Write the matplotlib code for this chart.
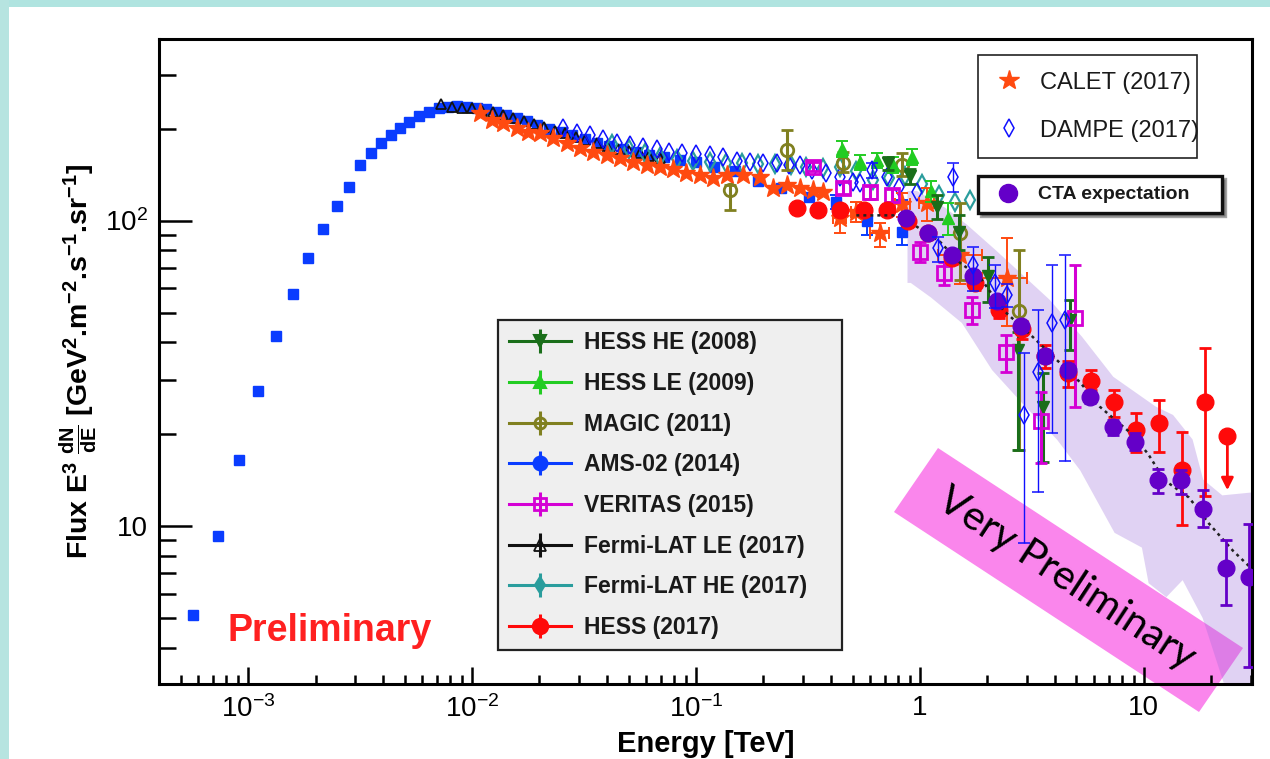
import matplotlib
matplotlib.use("Agg")
import matplotlib.pyplot as plt
from matplotlib.lines import Line2D
from matplotlib.patches import Rectangle, Polygon
import matplotlib.ticker as mticker

plt.rcParams['font.family'] = ['Liberation Sans', 'DejaVu Sans']
plt.rcParams['mathtext.fontset'] = 'custom'
plt.rcParams['mathtext.rm'] = 'Liberation Sans'
plt.rcParams['mathtext.it'] = 'Liberation Sans:italic'
plt.rcParams['mathtext.bf'] = 'Liberation Sans:bold'
plt.rcParams['mathtext.default'] = 'regular'

# ---------------- data: energy [TeV], E^3 dN/dE [GeV^2 m^-2 s^-1 sr^-1] ----------------
ams_E = [5.7e-4, 7.3e-4, 9.1e-4, 1.11e-3, 1.33e-3, 1.58e-3, 1.86e-3, 2.15e-3, 2.49e-3, 2.83e-3,
         3.16e-3, 3.53e-3, 3.92e-3, 4.33e-3, 4.77e-3, 5.25e-3, 5.82e-3, 6.44e-3, 7.10e-3,
         7.8e-3, 8.6e-3, 9.5e-3, 0.0105, 0.0116, 0.0128, 0.0142, 0.0158, 0.0176, 0.0196,
         0.022, 0.025, 0.028, 0.032, 0.036, 0.041, 0.047, 0.054, 0.062, 0.072, 0.085,
         0.10, 0.12, 0.15, 0.19, 0.24, 0.32]
ams_F = [5.1, 9.3, 16.4, 27.6, 41.9, 57.7, 75.3, 94, 112, 129,
         152, 166, 179, 190, 201, 211, 220, 227, 233,
         236, 237, 236, 234, 231, 227, 222, 217, 212, 206,
         200, 195, 190, 185, 180, 176, 172, 168, 164, 161, 158,
         155, 150, 145, 135, 128, 119]
ams_he_E = [0.42, 0.58, 0.83]
ams_he_F = [115, 100, 92]
ams_he_lo = [6, 10, 9]
ams_he_hi = [6, 10, 25]

fermi_le_E = [0.0073, 0.0081, 0.009, 0.010, 0.0111, 0.0124, 0.0138, 0.0153, 0.017, 0.019, 0.021,
              0.0235, 0.026, 0.029, 0.032, 0.036, 0.040, 0.045, 0.050, 0.056, 0.062, 0.069]
fermi_le_F = [240, 236, 234, 233, 229, 226, 222, 217, 212, 207, 202,
              197, 193, 188, 184, 180, 176, 172, 169, 166, 163, 160]

fermi_he_E = [0.042, 0.05, 0.059, 0.069, 0.082, 0.097, 0.115, 0.136, 0.16, 0.19, 0.225, 0.265,
              0.31, 0.37, 0.44, 0.52, 0.62, 0.73, 0.86, 1.02, 1.22, 1.44, 1.68, 1.95]
fermi_he_F = [178, 172, 167, 162, 159, 157, 156, 154, 154, 153, 153, 152,
              150, 149, 150, 145, 136, 138, 140, 132, 121, 115, 117, 115]

dampe_E = [0.0255, 0.0294, 0.0336, 0.0385, 0.0443, 0.0509, 0.058, 0.067, 0.076, 0.087, 0.10,
           0.115, 0.132, 0.152, 0.175, 0.20, 0.23, 0.26, 0.29, 0.33, 0.38, 0.44, 0.50, 0.54,
           0.71, 0.81, 0.97]
dampe_F = [201, 193, 190, 185, 180, 177, 174, 172, 168, 166, 165,
           164, 162, 157, 155, 154, 154, 152, 152, 146, 143, 139, 134, 133,
           139, 129, 124]
dampe_he_E = [0.61, 1.21, 1.40, 1.73, 2.16, 2.46, 2.93, 3.36, 3.87, 4.44]
dampe_he_F = [146, 81.2, 139, 71.6, 62.4, 57.1, 23.1, 32.0, 46.1, 47.3]
dampe_he_lo = [8, 8, 15, 12.6, 10.6, 5, 14.3, 19.1, 25.9, 31]
dampe_he_hi = [8, 7, 15, 10.4, 9.2, 5, 13.8, 19, 25.5, 29.9]

calet_E = [0.0109, 0.0123, 0.0138, 0.0159, 0.0178, 0.0202, 0.023, 0.0265, 0.0303, 0.0346,
           0.040, 0.0456, 0.0524, 0.0603, 0.069, 0.079, 0.0907, 0.104, 0.119, 0.137,
           0.162, 0.193, 0.22, 0.254, 0.29, 0.333, 0.37]
calet_F = [225, 213, 209, 201, 195, 193, 186, 180, 173, 168,
           164, 160, 156, 152, 150, 147, 143, 141, 138, 141,
           141, 139, 128, 131, 128, 126, 124]
calet_he_E = [0.44, 0.52, 0.66, 0.83, 1.07, 1.51, 2.44]
calet_he_F = [102, 107, 91, 113, 114, 77, 65]
calet_he_lo = [11, 8, 9, 10, 14, 15, 20]
calet_he_hi = [6, 8, 7, 10, 14, 18, 23]
calet_he_xlo = [0.03, 0.03, 0.06, 0.06, 0.08, 0.31, 0.54]
calet_he_xhi = [0.03, 0.03, 0.07, 0.07, 0.08, 0.39, 0.56]

magic_E = [0.142, 0.254, 0.455, 0.83, 1.51, 2.78]
magic_F = [126, 170, 154, 152, 91, 50.4]
magic_lo = [18, 24, 10, 12, 27, 32.7]
magic_hi = [5, 28, 14, 14, 23, 29.8]

hess_le_E = [0.45, 0.54, 0.64, 0.76, 0.92, 1.12, 1.34]
hess_le_F = [172, 155, 158, 152, 162, 125, 102]
hess_le_err = [10, 9, 9, 9, 10, 10, 12]

hess_he_E = [0.72, 0.9, 1.19, 1.5, 2.01, 2.73, 3.54, 4.67]
hess_he_F = [154, 140, 111, 92, 66, 37.7, 24.6, 47.3]
hess_he_lo = [8, 8, 10, 12, 12, 20, 8.4, 9.6]
hess_he_hi = [8, 8, 10, 12, 10, 5.4, 7.1, 7.7]

veritas_E = [0.334, 0.455, 0.60, 0.75, 1.0, 1.28, 1.71, 2.42, 3.46, 4.94]
veritas_F = [150, 128, 124, 121, 79, 67.3, 51, 37.2, 22, 47.9]
veritas_lo = [5, 6, 6, 6, 6, 6, 5, 5.2, 5.9, 23.3]
veritas_hi = [5, 6, 6, 6, 6, 6, 5, 5, 5.5, 23.7]

hess17_E = [0.282, 0.352, 0.44, 0.56, 0.71, 0.887, 1.09, 1.39, 1.76, 2.25, 2.85, 3.6,
            4.6, 5.81, 7.36, 9.23, 11.7, 14.8, 18.7]
hess17_F = [110, 108, 108, 108, 108, 99.3, 91, 75.3, 62.4, 51, 44, 36,
            31.6, 29.9, 25.5, 20.6, 21.8, 15.3, 25.4]
hess17_lo = [3, 3, 3, 3, 3, 3, 3, 3, 3, 3, 3, 3, 3, 2, 2.7, 3.1, 4.3, 5.2, 12.9]
hess17_hi = [3, 3, 3, 3, 3, 3, 3, 3, 3, 3, 3, 3, 3, 2.5, 2.4, 2.8, 4.1, 5.0, 12.8]
hess17_ul_E = [23.6]
hess17_ul_F = [19.7]
hess17_ul_end = [13.1]

cta_E = [0.87, 1.09, 1.39, 1.73, 2.20, 2.82, 3.63, 4.57, 5.73, 7.29, 9.17, 11.6, 14.6, 18.3, 23.2, 29.6]
cta_F = [102, 91, 77.2, 65.6, 54.4, 45, 35.9, 32.4, 26.5, 21.1, 18.9, 14.1, 14.2, 11.4, 7.27, 6.82]
cta_lo = [2, 2, 2, 2, 2, 1.5, 1.5, 1.5, 1.2, 1.2, 1.2, 1.3, 1.5, 1.5, 1.77, 3.36]
cta_hi = [2, 2, 2, 2, 2, 1.5, 1.5, 1.5, 1.2, 1.2, 1.2, 1.3, 1.1, 1.7, 1.7, 3.3]

cta_model_E = [0.52, 0.81, 0.97, 1.23, 1.51, 1.85, 2.35, 3.19, 5.18, 6.35, 8.5, 10.4, 12.4,
               15.9, 19.5, 25.0, 30.6]
cta_model_F = [104, 104, 95.4, 85.2, 72.7, 65.4, 51.0, 41.6, 29.6, 24.6, 20.5, 17.3, 14.1,
               12.4, 10.2, 8.3, 7.2]

band_up_E = [0.88, 0.97, 1.3, 1.62, 2.18, 3.8, 5.3, 7.3, 11.3, 13.5, 16.5, 18.4, 22.4, 31]
band_up_F = [125, 125, 110, 97, 80, 55, 41.6, 30.8, 24.6, 23.1, 19.2, 14.2, 12.6, 12.9]
band_lo_E = [0.88, 0.91, 1.12, 1.54, 2.10, 2.97, 4.09, 5.2, 7.4, 9.8, 10.5, 12.6, 14.9, 18.3, 22.7, 31]
band_lo_F = [62.5, 62.5, 56, 46.2, 32.4, 24.5, 19.2, 15.2, 9.5, 8.5, 6.5, 5.85, 6.65, 5.0, 3.07, 3.0]

xtick_vals = [1e-3, 1e-2, 1e-1, 1, 10]
xtick_labels = [r'$10^{-3}$', r'$10^{-2}$', r'$10^{-1}$', '1', '10']
ytick_vals = [10, 100]
ytick_labels = ['10', r'$10^{2}$']

legend_main_labels = ['HESS HE (2008)', 'HESS LE (2009)', 'MAGIC (2011)', 'AMS-02 (2014)',
                      'VERITAS (2015)', 'Fermi-LAT LE (2017)', 'Fermi-LAT HE (2017)', 'HESS (2017)']

# ---------------- colours ----------------
C_AMS = '#0a3cff'
C_FLE = '#111111'
C_FHE = '#2a9d9d'
C_DAMPE = '#1010ff'
C_CALET = '#ff4a10'
C_MAGIC = '#808020'
C_HLE = '#22cc22'
C_HHE = '#1a6e1a'
C_VER = '#d400d4'
C_H17 = '#ff0a0a'
C_CTA = '#6400c8'

W_PX, H_PX = 1270, 759
fig = plt.figure(figsize=(W_PX / 100, H_PX / 100), dpi=100)

# slide-style teal edges
fig.patches.append(Rectangle((0, 1 - 7 / H_PX), 1, 7 / H_PX, transform=fig.transFigure,
                             facecolor='#b0e4e0', edgecolor='none', zorder=0))
fig.patches.append(Rectangle((0, 0), 9 / W_PX, 1, transform=fig.transFigure,
                             facecolor='#b6e4e0', edgecolor='none', zorder=0))

ax_l, ax_r, ax_t, ax_b = 159, 1252, 39, 684
ax = fig.add_axes([ax_l / W_PX, 1 - ax_b / H_PX, (ax_r - ax_l) / W_PX, (ax_b - ax_t) / H_PX])
ax.set_xscale('log')
ax.set_yscale('log')
ax.set_xlim(4.0e-4, 30.4)
ax.set_ylim(3.04, 393)

for sp in ax.spines.values():
    sp.set_linewidth(2.2)

# "Very Preliminary" banner (figure pixel geometry)
banner = [(938, 448), (1243, 648), (1199, 712), (894, 512)]
ax.add_patch(Polygon([(x / W_PX, 1 - y / H_PX) for x, y in banner], closed=True,
                     transform=fig.transFigure, facecolor='#fa86ec', edgecolor='none',
                     clip_on=False, zorder=1.1))

# CTA expectation band
band_x = band_up_E + band_lo_E[::-1]
band_y = band_up_F + band_lo_F[::-1]
ax.fill(band_x, band_y, facecolor='#9b6bd9', alpha=0.3, edgecolor='none', zorder=1.2)

eb = dict(ls='none', capsize=4, elinewidth=1.4, capthick=1.4)

# AMS-02
ax.plot(ams_E, ams_F, ls='none', marker='s', ms=7.2, color=C_AMS, zorder=3)
ax.errorbar(ams_he_E, ams_he_F, yerr=[ams_he_lo, ams_he_hi], marker='s', ms=7.2,
            color=C_AMS, zorder=3, **eb)
# Fermi-LAT LE / HE
ax.plot(fermi_le_E, fermi_le_F, ls='none', marker='^', ms=7, mfc='none', mec=C_FLE,
        mew=1.3, zorder=3.1)
ax.plot(fermi_he_E, fermi_he_F, ls='none', marker='d', ms=9, mfc='none', mec=C_FHE,
        mew=1.6, zorder=3.2)
# DAMPE
ax.plot(dampe_E, dampe_F, ls='none', marker='d', ms=9, mfc='none', mec=C_DAMPE,
        mew=1.1, zorder=3.3)
ax.errorbar(dampe_he_E, dampe_he_F, yerr=[dampe_he_lo, dampe_he_hi], marker='d', ms=9,
            mfc='none', mec=C_DAMPE, mew=1.1, color=C_DAMPE, ls='none', capsize=4,
            elinewidth=1.0, capthick=1.0, zorder=4.3)
# CALET
ax.plot(calet_E, calet_F, ls='none', marker='*', ms=14, color=C_CALET, mec=C_CALET, zorder=3.4)
ax.errorbar(calet_he_E, calet_he_F, yerr=[calet_he_lo, calet_he_hi],
            xerr=[calet_he_xlo, calet_he_xhi], marker='*', ms=14, color=C_CALET,
            zorder=3.4, **eb)
# MAGIC
ax.errorbar(magic_E, magic_F, yerr=[magic_lo, magic_hi], marker='o', ms=9, mfc='none',
            mec=C_MAGIC, mew=2, color=C_MAGIC, ls='none', capsize=4, elinewidth=2.2,
            capthick=2, zorder=3.5)
# HESS LE / HE
ax.errorbar(hess_le_E, hess_le_F, yerr=hess_le_err, marker='^', ms=9, color=C_HLE,
            zorder=3.6, **eb)
ax.errorbar(hess_he_E, hess_he_F, yerr=[hess_he_lo, hess_he_hi], marker='v', ms=9,
            color=C_HHE, ls='none', capsize=4, elinewidth=2.2, capthick=2, zorder=3.7)
# VERITAS
ax.errorbar(veritas_E, veritas_F, yerr=[veritas_lo, veritas_hi], marker='s', ms=9.5,
            mfc='none', mec=C_VER, mew=2, color=C_VER, ls='none', capsize=4,
            elinewidth=2.2, capthick=2, zorder=3.8)
# HESS 2017
ax.errorbar(hess17_E, hess17_F, yerr=[hess17_lo, hess17_hi], marker='o', ms=12,
            color=C_H17, zorder=3.9, ls='none', capsize=4, elinewidth=2, capthick=2)
ax.plot(hess17_ul_E, hess17_ul_F, ls='none', marker='o', ms=12, color=C_H17, zorder=3.9)
for e, f0, f1 in zip(hess17_ul_E, hess17_ul_F, hess17_ul_end):
    ax.annotate('', xy=(e, f1), xytext=(e, f0), zorder=3.9,
                arrowprops=dict(arrowstyle='-|>', color=C_H17, lw=2,
                                mutation_scale=18, shrinkA=0, shrinkB=0))
# CTA expectation
ax.plot(cta_model_E, cta_model_F, color='#222222', lw=1.8, ls=(0, (1.2, 1.6)), zorder=4.0)
ax.errorbar(cta_E, cta_F, yerr=[cta_lo, cta_hi], marker='o', ms=12, color=C_CTA,
            zorder=4.1, ls='none', capsize=4, elinewidth=2, capthick=2)

# ---------------- axes ----------------
ax.xaxis.set_minor_locator(mticker.LogLocator(base=10, subs=range(2, 10), numticks=30))
ax.yaxis.set_minor_locator(mticker.LogLocator(base=10, subs=range(2, 10), numticks=30))
ax.xaxis.set_minor_formatter(mticker.NullFormatter())
ax.yaxis.set_minor_formatter(mticker.NullFormatter())
ax.set_xticks(xtick_vals)
ax.set_xticklabels(xtick_labels)
ax.set_yticks(ytick_vals)
ax.set_yticklabels(ytick_labels)
ax.tick_params(axis='x', which='major', direction='in', length=12, width=1.8, top=False,
               labelsize=20, pad=8)
ax.tick_params(axis='x', which='minor', direction='in', length=6.5, width=1.8, top=False)
ax.tick_params(axis='y', which='major', direction='in', length=24, width=1.8, right=False,
               labelsize=20, pad=8)
ax.tick_params(axis='y', which='minor', direction='in', length=12, width=1.8, right=False)

ax.set_xlabel('Energy [TeV]', fontsize=21, fontweight='bold')
ax.xaxis.set_label_coords(0.5, -0.072)
ax.set_ylabel(r'Flux E$^{\mathbf{3}}$ $\mathbf{\frac{dN}{dE}}$ [GeV$^{\mathbf{2}}$.m$^{\mathbf{-2}}$'
              r'.s$^{\mathbf{-1}}$.sr$^{\mathbf{-1}}$]', fontsize=20.5, fontweight='bold', va='center')
ax.yaxis.set_label_coords(-0.074, 0.5)

# ---------------- annotations ----------------
ax.text((228 - ax_l) / (ax_r - ax_l), 1 - (631 - ax_t) / (ax_b - ax_t), 'Preliminary',
        transform=ax.transAxes, ha='left', va='center', fontsize=27, fontweight='bold',
        color='#ff2020', zorder=6)
ax.text(1066 / W_PX, 1 - 579 / H_PX, 'Very Preliminary', transform=fig.transFigure,
        rotation=-33.3, rotation_mode='anchor', ha='center', va='center', fontsize=29.5,
        family=['Lato', 'DejaVu Sans'], color='black', zorder=10)


# ---------------- legends ----------------
def entry(color, marker, ms, filled=True, mew=1.5):
    hline = Line2D([], [], color=color, lw=2.2)
    vbar = Line2D([], [], color=color, marker='|', ms=17, mew=2.2, ls='none')
    mk = Line2D([], [], color=color, marker=marker, ms=ms, ls='none',
                mfc=color if filled else 'none', mec=color, mew=mew)
    return (hline, vbar, mk)


main_handles = [entry(C_HHE, 'v', 8), entry(C_HLE, '^', 8), entry(C_MAGIC, 'o', 8, False, 2),
                entry(C_AMS, 'o', 10), entry(C_VER, 's', 8, False, 2),
                entry(C_FLE, '^', 8, False, 1.3), entry(C_FHE, 'd', 8), entry(C_H17, 'o', 11)]
leg_main = ax.legend(main_handles, legend_main_labels, loc='upper left',
                     bbox_to_anchor=(498 / W_PX, 1 - 320 / H_PX, 344 / W_PX, 0),
                     bbox_transform=fig.transFigure, mode='expand', borderaxespad=0,
                     prop=dict(size=16.5, weight='bold'), labelcolor='#1a1a1a',
                     handlelength=2.7, handletextpad=0.55, borderpad=0.5, labelspacing=0.77,
                     fancybox=False, framealpha=1, facecolor='#efefef', edgecolor='#222222',
                     numpoints=1)
leg_main.get_frame().set_linewidth(1.6)
leg_main.set_zorder(8)
ax.add_artist(leg_main)

top_handles = [Line2D([], [], ls='none', marker='*', ms=15, color=C_CALET),
               Line2D([], [], ls='none', marker='d', ms=9, mfc='none', mec=C_DAMPE, mew=1.1)]
leg_top = ax.legend(top_handles, ['CALET (2017)', 'DAMPE (2017)'], loc='upper left',
                    bbox_to_anchor=(978 / W_PX, 1 - 55 / H_PX, 219 / W_PX, 0),
                    bbox_transform=fig.transFigure, mode='expand', borderaxespad=0,
                    prop=dict(size=17), labelcolor='#1a1a1a', handlelength=1.2,
                    handletextpad=0.74, borderpad=0.7, labelspacing=1.1, fancybox=False,
                    framealpha=1, facecolor='white', edgecolor='#222222', numpoints=1)
leg_top.get_frame().set_linewidth(1.2)
leg_top.set_zorder(8)
ax.add_artist(leg_top)

cta_handle = [Line2D([], [], ls='none', marker='o', ms=13, color=C_CTA)]
leg_cta = ax.legend(cta_handle, ['CTA expectation'], loc='upper left',
                    bbox_to_anchor=(978 / W_PX, 1 - 176 / H_PX, 244 / W_PX, 0),
                    bbox_transform=fig.transFigure, mode='expand', borderaxespad=0,
                    prop=dict(size=14, weight='bold'), labelcolor='#1a1a1a', handlelength=2.1,
                    handletextpad=0.5, borderpad=0.5, fancybox=False, framealpha=1,
                    facecolor='white', edgecolor='#111111', numpoints=1, shadow=True)
leg_cta.get_frame().set_linewidth(2.4)
leg_cta.set_zorder(8)

fig.savefig('out.png', dpi=100)
